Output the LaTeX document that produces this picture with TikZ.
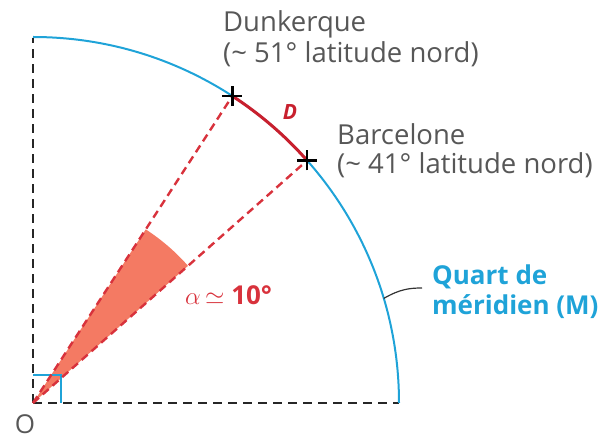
\documentclass[tikz,border=0pt]{standalone}
\usepackage{fontspec}
\setmainfont{Open Sans}
\usetikzlibrary{calc}
\definecolor{merblue}{HTML}{1FA3D8}
\definecolor{dashred}{HTML}{D8323C}
\definecolor{arcred}{HTML}{C8202E}
\definecolor{salmon}{HTML}{F47A63}
\definecolor{txtgray}{HTML}{575757}
\tikzset{
  reddash/.style={dashred, line width=2.4pt, dash pattern=on 8pt off 5pt},
  blackdash/.style={black!85, line width=2.2pt, dash pattern=on 9pt off 6pt},
  graytxt/.style={txtgray, font=\fontsize{27.5}{31}\selectfont, anchor=base west, inner sep=0pt},
  bluetxt/.style={merblue, font=\fontsize{26}{30}\selectfont\bfseries, anchor=base west, inner sep=0pt},
  crossmark/.style={black, line width=2.4pt}
}
\begin{document}
\begin{tikzpicture}[x=1pt,y=1pt]
\useasboundingbox (0,0) rectangle (603,439);
\coordinate (O) at (33,36);
\coordinate (top) at (33,401);
\coordinate (right) at (399,36);
\coordinate (Dk) at ($(O)+(57:366)$);
\coordinate (Bc) at ($(O)+(41.5:366)$);
\coordinate (lead) at ($(O)+(16.6:366)$);
\coordinate (leadend) at (422,151);
% sector
\fill[salmon] (O) -- ($(O)+(41.5:207)$) arc (41.5:57:207) -- cycle;
% axes
\draw[blackdash] (O) -- (top);
\draw[blackdash] (O) -- (right);
% right angle
\draw[merblue, line width=1.8pt] (33,64) -- (61,64) -- (61,36);
% meridian arc
\draw[merblue, line width=2pt] (right) arc (0:90:366);
% D arc
\draw[arcred, line width=3pt] (Bc) arc (41.5:57:366);
% dashed radii
\draw[reddash] (O) -- (Dk);
\draw[reddash] (O) -- (Bc);
% crosses
\draw[crossmark] ($(Dk)+(-10,0)$) -- ($(Dk)+(10,0)$) ($(Dk)+(0,-10)$) -- ($(Dk)+(0,10)$);
\draw[crossmark] ($(Bc)+(-10,0)$) -- ($(Bc)+(10,0)$) ($(Bc)+(0,-10)$) -- ($(Bc)+(0,10)$);
% leader
\draw[black!80, line width=1.2pt] (lead) .. controls (400,150) and (410,151) .. (leadend);
% labels
\node[graytxt] (dk1) at (223,407) {Dunkerque};
\node[graytxt] (dk2) at (223,376) {(\textasciitilde\ 51° latitude nord)};
\node[graytxt] (bc1) at (337,294) {Barcelone};
\node[graytxt] (bc2) at (337,265) {(\textasciitilde\ 41° latitude nord)};
\node[bluetxt] (m1) at (432,154) {Quart de};
\node[bluetxt] (m2) at (432,124) {méridien (M)};
\node[arcred, font=\fontsize{21}{24}\selectfont\bfseries\itshape, inner sep=0pt] (Dl) at (290,327) {D};
\node[dashred, font=\fontsize{26}{30}\selectfont\bfseries, anchor=base west, inner sep=0pt] (al) at (185,134) {\fontsize{30}{30}\selectfont$\alpha$\fontsize{26}{30}\selectfont\,$\simeq$ 10°};
\node[txtgray, font=\fontsize{26}{30}\selectfont, anchor=base, inner sep=0pt] (Ol) at (25,5) {O};
\end{tikzpicture}
\end{document}
